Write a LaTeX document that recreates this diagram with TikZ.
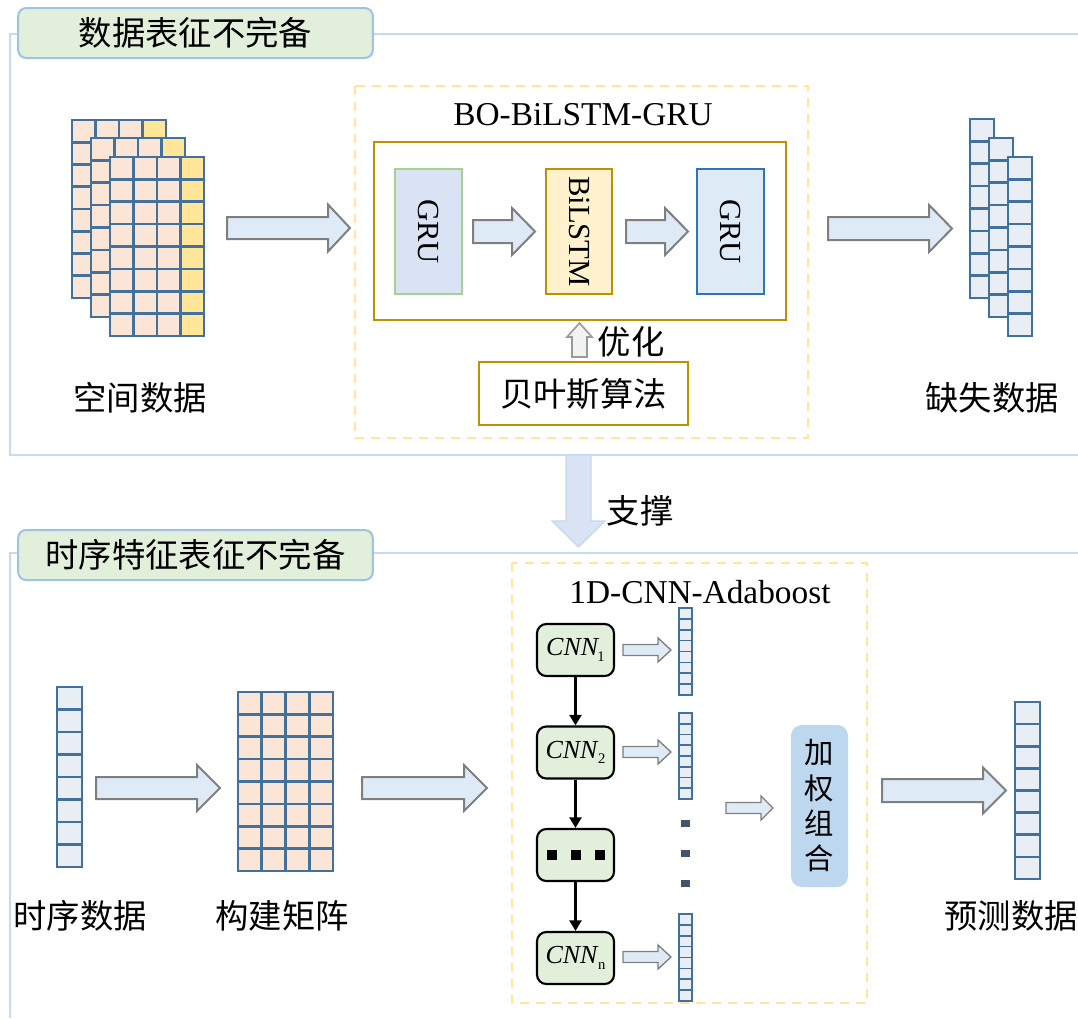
\documentclass[tikz,border=0pt]{standalone}
\usepackage{fontspec}
\usepackage{graphicx}
\setmainfont{Liberation Serif}
\newfontfamily\cjk{Noto Sans CJK SC}
\usetikzlibrary{arrows.meta}

\definecolor{framec}{HTML}{C5DCF0}
\definecolor{titleedge}{HTML}{9DC3E6}
\definecolor{titlefill}{HTML}{E2EFDA}
\definecolor{cellc}{HTML}{41719C}
\definecolor{pinkc}{HTML}{FBE5D6}
\definecolor{yellowc}{HTML}{FFE699}
\definecolor{colc}{HTML}{E9EDF4}
\definecolor{dashc}{HTML}{FFE699}
\definecolor{goldc}{HTML}{BF9000}
\definecolor{arrowfill}{HTML}{DEEBF7}
\definecolor{arrowedge}{HTML}{7F7F7F}
\definecolor{grufill}{HTML}{DAE3F3}
\definecolor{gruedge}{HTML}{A9D18E}
\definecolor{lstmfill}{HTML}{FFF2CC}
\definecolor{gru2fill}{HTML}{DEEBF7}
\definecolor{gru2edge}{HTML}{2E75B6}
\definecolor{supportfill}{HTML}{DAE3F3}
\definecolor{supportedge}{HTML}{C5D9EF}
\definecolor{combfill}{HTML}{BDD7EE}
\definecolor{dotc}{HTML}{44546A}

% grid of cells: x0 y0 x1 y1 cols rows fill lastcolumnfill linewidth
\newcommand{\mgrid}[9]{%
  \pgfmathsetmacro\gw{(#3-#1)/#5}%
  \pgfmathsetmacro\gh{(#4-#2)/#6}%
  \fill[#7] (#1,#2) rectangle (#3,#4);
  \fill[#8] ({#3-\gw},#2) rectangle (#3,#4);
  \foreach \k in {0,...,#5} \draw[cell,line width=#9] ({#1+\k*\gw},#2) -- ({#1+\k*\gw},#4);
  \foreach \k in {0,...,#6} \draw[cell,line width=#9] (#1,{#2+\k*\gh}) -- (#3,{#2+\k*\gh});
}
% horizontal block arrow: style, x start, x tip, y centre, shaft half, head half, head length
\newcommand{\harrow}[7]{%
  \draw[#1] (#2,{#4-#5}) -- ({#3-#7},{#4-#5}) -- ({#3-#7},{#4-#6}) -- (#3,#4)
    -- ({#3-#7},{#4+#6}) -- ({#3-#7},{#4+#5}) -- (#2,{#4+#5}) -- cycle;
}

\begin{document}
\begin{tikzpicture}[x=0.75pt,y=-0.75pt,
  frame/.style={draw=framec,line width=1.5pt},
  titlebox/.style={draw=titleedge,fill=titlefill,rounded corners=6pt,line width=1.5pt,
    inner sep=0pt,minimum width=266pt,minimum height=37.5pt,
    font=\cjk\fontsize{25pt}{30pt}\selectfont},
  cell/.style={draw=cellc,line cap=rect},
  dashbox/.style={draw=dashc,line width=1.5pt,dash pattern=on 7pt off 5pt},
  blk/.style={draw=arrowedge,fill=arrowfill,line width=1.5pt,line join=miter},
  blksmall/.style={draw=arrowedge,fill=arrowfill,line width=1pt,line join=miter},
  cjklabel/.style={font=\cjk\fontsize{25pt}{30pt}\selectfont,inner sep=0pt},
  entitle/.style={font=\fontsize{25pt}{30pt}\selectfont,inner sep=0pt},
  layerbox/.style={line width=1.5pt,inner sep=0pt,minimum width=50pt,minimum height=94pt,
    font=\fontsize{23pt}{27pt}\selectfont},
  cnnbox/.style={draw=black,fill=titlefill,rounded corners=7pt,line width=1.6pt,inner sep=0pt,
    minimum width=57.75pt,minimum height=39pt,font=\fontsize{19.5pt}{22pt}\selectfont},
  flow/.style={-{Triangle[length=8pt,width=9pt]},line width=2pt,black}
]
\useasboundingbox (0,0) rectangle (1078,1018);

% ---------- section frames ----------
\draw[frame] (1078,34) -- (10,34) -- (10,455) -- (1078,455);
\draw[frame] (1078,553) -- (10,553) -- (10,1018);
\node[titlebox] (title1) at (195.5,33) {数据表征不完备};
\node[titlebox] (title2) at (195.5,555) {时序特征表征不完备};

% ---------- spatial data stack ----------
\mgrid{72}{120}{166}{298}{4}{8}{pinkc}{yellowc}{1.9pt}
\mgrid{91}{138}{185}{317}{4}{8}{pinkc}{yellowc}{1.9pt}
\mgrid{110}{157}{204}{336}{4}{8}{pinkc}{yellowc}{1.9pt}
\node[cjklabel] (spatial) at (140,398) {空间数据};

\harrow{blk}{227}{350}{228}{11}{23.5}{22}

% ---------- BO-BiLSTM-GRU ----------
\draw[dashbox] (355,86) rectangle (808,438);
\node[entitle] (botitle) at (583,115) {BO-BiLSTM-GRU};
\draw[draw=goldc,line width=1.6pt] (374,142) rectangle (786,320);
\node[layerbox,draw=gruedge,fill=grufill] (gru1) at (428.5,231.5) {\rotatebox{-90}{GRU}};
\node[layerbox,draw=goldc,fill=lstmfill] (lstm) at (579,231.5) {\rotatebox{-90}{BiLSTM}};
\node[layerbox,draw=gru2edge,fill=gru2fill] (gru2) at (730.5,231.5) {\rotatebox{-90}{GRU}};
\harrow{blk}{473}{535}{231.5}{11.5}{23.5}{23}
\harrow{blk}{626}{688}{231.5}{11.5}{23.5}{23}

% optimisation arrow and Bayes box
\draw[draw=arrowedge!80,fill=black!5,line width=1.2pt,line join=miter]
  (572,357) -- (572,337) -- (567,337) -- (579.5,323) -- (592,337) -- (587,337) -- (587,357) -- cycle;
\node[cjklabel] (opt) at (631,342) {优化};
\node[draw=goldc,line width=1.6pt,minimum width=156.75pt,minimum height=47.25pt,inner sep=0pt,
  font=\cjk\fontsize{25pt}{30pt}\selectfont] (bayes) at (583.5,393.5) {贝叶斯算法};

\harrow{blk}{828}{952}{228.5}{11.5}{23.5}{23}

% ---------- missing data stack ----------
\mgrid{970}{119}{994}{298}{1}{8}{colc}{colc}{1.9pt}
\mgrid{989}{138}{1013}{317}{1}{8}{colc}{colc}{1.9pt}
\mgrid{1008}{157}{1032}{336}{1}{8}{colc}{colc}{1.9pt}
\node[cjklabel] (missing) at (992,398) {缺失数据};

% ---------- support arrow ----------
\draw[draw=supportedge,fill=supportfill,line width=1pt,line join=miter]
  (566,455) -- (591,455) -- (591,521) -- (605,521) -- (578.5,547) -- (552,521) -- (566,521) -- cycle;
\node[cjklabel] (support) at (640,511) {支撑};

% ---------- time series ----------
\mgrid{57}{687}{82}{867}{1}{8}{colc}{colc}{1.9pt}
\node[cjklabel] (series) at (80,916) {时序数据};
\harrow{blk}{96}{220}{788}{11}{23}{23}
\mgrid{238}{692}{333}{871}{4}{8}{pinkc}{pinkc}{1.9pt}
\node[cjklabel] (matrix) at (282,916) {构建矩阵};
\harrow{blk}{362}{487}{788}{11}{23}{23}

% ---------- 1D-CNN-Adaboost ----------
\draw[dashbox] (512,563) rectangle (867,1003);
\node[entitle] (cnntitle) at (700,592) {1D-CNN-Adaboost};

\node[cnnbox] (cnn1) at (575.5,650) {\textit{CNN}\kern-1.5pt\raisebox{-4pt}{\fontsize{11pt}{11pt}\selectfont 1}};
\node[cnnbox] (cnn2) at (575.5,752.5) {\textit{CNN}\kern-0.5pt\raisebox{-4pt}{\fontsize{11pt}{11pt}\selectfont 2}};
\node[cnnbox] (cnn3) at (575.5,855) {};
\node[cnnbox] (cnn4) at (575.5,958) {\textit{CNN}\kern-0.5pt\raisebox{-4pt}{\fontsize{11pt}{11pt}\selectfont n}};
\foreach \cx in {552,576,600} \fill[black] ({\cx-5},850) rectangle ({\cx+5},860);
\draw[flow] (cnn1) -- (cnn2);
\draw[flow] (cnn2) -- (cnn3);
\draw[flow] (cnn3) -- (cnn4);

\harrow{blksmall}{623}{671}{650}{5.5}{12}{13}
\harrow{blksmall}{623}{671}{752}{5.5}{12}{13}
\harrow{blksmall}{623}{671}{957}{5.5}{12}{13}

\mgrid{679}{608}{692}{695}{1}{8}{colc}{colc}{1.2pt}
\mgrid{679}{713}{692}{799}{1}{8}{colc}{colc}{1.2pt}
\mgrid{679}{914}{692}{1001}{1}{8}{colc}{colc}{1.2pt}
\foreach \dy in {820,850,880} \fill[dotc] (681,\dy) rectangle (690,{\dy+7});

\harrow{blksmall}{726}{773}{808}{5.5}{12}{12}
\node[fill=combfill,rounded corners=8pt,minimum width=42.75pt,minimum height=121.5pt,inner sep=0pt,
  align=center,font=\cjk\fontsize{22pt}{26.5pt}\selectfont] (combine) at (819.5,806) {加\\权\\组\\合};

\harrow{blk}{882}{1006}{790.5}{11.5}{23}{23}
\mgrid{1015}{702}{1040}{879}{1}{8}{colc}{colc}{1.9pt}
\node[cjklabel] (predict) at (1011,916) {预测数据};
\end{tikzpicture}
\end{document}
